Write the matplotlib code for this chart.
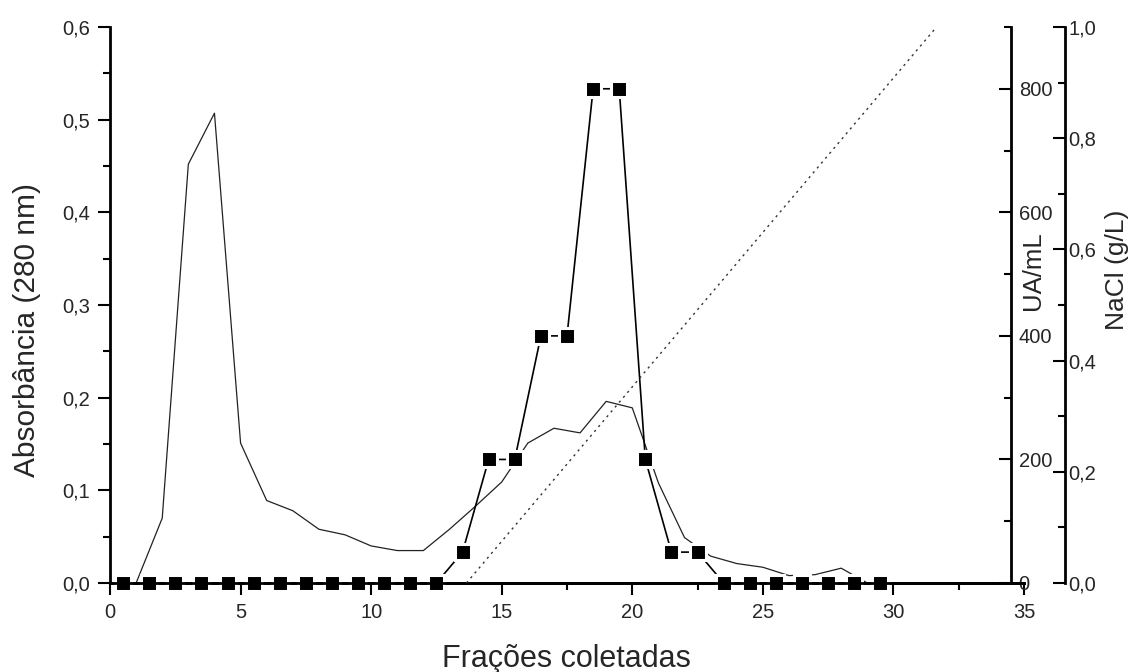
import matplotlib
matplotlib.use("Agg")
import matplotlib.pyplot as plt
from matplotlib.ticker import MultipleLocator, FuncFormatter

plt.rcParams['font.family'] = ['Liberation Sans', 'DejaVu Sans']

# Absorbance at 280 nm for each collected fraction
fractions = [1, 2, 3, 4, 5, 6, 7, 8, 9, 10, 11, 12, 13, 14, 15,
             16, 17, 18, 19, 20, 21, 22, 23, 24, 25, 26, 27, 28, 29]
absorbance = [0.0, 0.070, 0.452, 0.507, 0.151, 0.089, 0.078, 0.058, 0.052, 0.040,
              0.035, 0.035, 0.058, 0.083, 0.109, 0.151, 0.167, 0.162, 0.196, 0.189,
              0.108, 0.049, 0.029, 0.021, 0.017, 0.008, 0.009, 0.016, 0.0]

# Antimicrobial activity (UA/mL) per fraction
ua_fractions = [0.5, 1.5, 2.5, 3.5, 4.5, 5.5, 6.5, 7.5, 8.5, 9.5,
                10.5, 11.5, 12.5, 13.5, 14.5, 15.5, 16.5, 17.5, 18.5, 19.5,
                20.5, 21.5, 22.5, 23.5, 24.5, 25.5, 26.5, 27.5, 28.5, 29.5]
ua_ml = [0, 0, 0, 0, 0, 0, 0, 0, 0, 0,
         0, 0, 0, 50, 200, 200, 400, 400, 800, 800,
         200, 50, 50, 0, 0, 0, 0, 0, 0, 0]

# Linear NaCl gradient
nacl_fractions = [13.65, 31.65]
nacl = [0.0, 1.0]

W, H = 1130, 672
fig = plt.figure(figsize=(W / 100, H / 100), dpi=100)
ax = fig.add_axes([110 / W, 1 - 583 / H, 914 / W, 556 / H])
ax2 = ax.twinx()
ax3 = ax.twinx()

txt = '#262626'
tick_fs = 14.5
comma = FuncFormatter(lambda v, p: ('%.1f' % v).replace('.', ','))

# absorbance
ax.plot(fractions, absorbance, color='#222222', lw=0.9, zorder=3)
ax.set_xlim(0, 35)
ax.set_ylim(0, 0.6)
ax.xaxis.set_major_locator(MultipleLocator(5))
ax.xaxis.set_minor_locator(MultipleLocator(2.5))
ax.yaxis.set_major_locator(MultipleLocator(0.1))
ax.yaxis.set_minor_locator(MultipleLocator(0.05))
ax.yaxis.set_major_formatter(comma)
ax.tick_params(which='major', direction='out', length=8.5, width=1.5,
               labelsize=tick_fs, labelcolor=txt, pad=6)
ax.tick_params(which='minor', direction='out', length=5, width=1.5)
for side in ['top', 'right']:
    ax.spines[side].set_visible(False)
for side in ['left', 'bottom']:
    ax.spines[side].set_linewidth(2)

# activity
ax2.plot(ua_fractions, ua_ml, color='black', lw=1.2, marker='s',
         markersize=11.6, markerfacecolor='black', markeredgecolor='white',
         markeredgewidth=2.2, clip_on=False, zorder=2)
ax2.set_ylim(0, 900)
ax2.yaxis.set_major_locator(MultipleLocator(200))
ax2.yaxis.set_minor_locator(MultipleLocator(100))
ax2.spines['right'].set_position(('axes', (1011 - 110) / 914))
ax2.spines['right'].set_linewidth(2)
ax2.spines['bottom'].set_linewidth(2)
ax2.spines['bottom'].set_zorder(4)
for side in ['top', 'left']:
    ax2.spines[side].set_visible(False)
ax2.tick_params(which='major', direction='in', length=8.5, width=1.5,
                labelsize=tick_fs, labelcolor=txt, pad=5.5)
ax2.tick_params(which='minor', direction='in', length=5, width=1.5)
ax2.tick_params(axis='x', which='both', bottom=False, labelbottom=False)

# NaCl gradient
ax3.plot(nacl_fractions, nacl, color='#333333', lw=1.0,
         linestyle=(0, (1.6, 3.0)), zorder=2)
ax3.set_ylim(0, 1.0)
ax3.yaxis.set_major_locator(MultipleLocator(0.2))
ax3.yaxis.set_minor_locator(MultipleLocator(0.1))
ax3.yaxis.set_major_formatter(comma)
ax3.spines['right'].set_position(('axes', (1065 - 110) / 914))
ax3.spines['right'].set_linewidth(2)
for side in ['top', 'left', 'bottom']:
    ax3.spines[side].set_visible(False)
ax3.tick_params(which='major', direction='in', length=8.5, width=1.5,
                labelsize=tick_fs, labelcolor=txt, pad=2.5)
ax3.tick_params(which='minor', direction='in', length=5, width=1.5)
ax3.tick_params(axis='x', which='both', bottom=False, labelbottom=False)

# axis titles
fig.text(27 / W, 1 - 330 / H, 'Absorbância (280 nm)', rotation=90,
         ha='center', va='center', fontsize=21.5, color=txt)
fig.text(566 / W, 1 - 659 / H, 'Frações coletadas',
         ha='center', va='center', fontsize=22, color=txt)
fig.text(1033 / W, 1 - 271 / H, 'UA/mL', rotation=90,
         ha='center', va='center', fontsize=18.5, color=txt)
fig.text(1117 / W, 1 - 270 / H, 'NaCl (g/L)', rotation=90,
         ha='center', va='center', fontsize=19, color=txt)

fig.savefig('out.png', dpi=100)
